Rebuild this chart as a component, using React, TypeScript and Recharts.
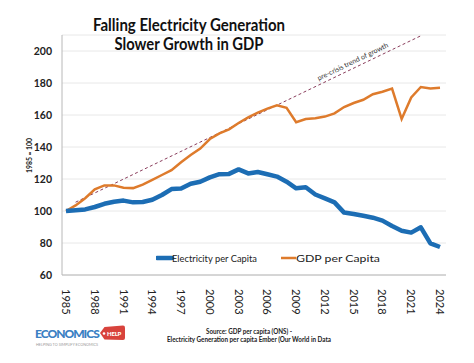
import React from 'react';
import { LineChart, Line, XAxis, YAxis, CartesianGrid, Legend, LabelList } from 'recharts';

const years = [
  1985, 1986, 1987, 1988, 1989, 1990, 1991, 1992, 1993, 1994,
  1995, 1996, 1997, 1998, 1999, 2000, 2001, 2002, 2003, 2004,
  2005, 2006, 2007, 2008, 2009, 2010, 2011, 2012, 2013, 2014,
  2015, 2016, 2017, 2018, 2019, 2020, 2021, 2022, 2023, 2024,
];
const electricity = [
  100, 100.5, 101, 102.5, 104.5, 105.8, 106.5, 105.4, 105.6, 107,
  110, 113.7, 114, 117, 118.3, 121, 123, 123.2, 126, 123.5,
  124.4, 123, 121.5, 118.3, 114.2, 114.8, 110.3, 107.9, 105.4, 99,
  98.1, 97, 95.8, 94, 90.6, 87.7, 86.5, 89.8, 79.8, 77.5,
];
const gdp = [
  100, 103.5, 108, 113.5, 116, 116, 114.5, 114.3, 116.5, 119.5,
  122.5, 125.5, 130.5, 135, 139, 145, 148.5, 151, 155, 158.5,
  161.5, 164, 166, 164.5, 155.5, 157.5, 158, 159, 161, 165,
  167.5, 169.5, 173, 174.5, 176.5, 157.5, 171, 177.5, 176.5, 177,
];
const trendYears = [1986, 2022];
const trendValues = [105.5, 209.5];
const xTicks = [1985, 1988, 1991, 1994, 1997, 2000, 2003, 2006, 2009, 2012, 2015, 2018, 2021, 2024];
const yTicks = [60, 80, 100, 120, 140, 160, 180, 200];

const data = years.map((year, i) => ({ year, elec: electricity[i], gdp: gdp[i] }));
const trendData = trendYears.map((year, i) => ({ year, trend: trendValues[i] }));

const BLUE = '#1c6db4';
const ORANGE = '#de7b2c';
const FONT = 'Lato, "Open Sans", sans-serif';

const XTick = (props: any) => {
  const { x, y, payload } = props;
  return (
    <g transform={`translate(${x},${y})`}>
      <text transform="rotate(90)" x={6} y={0} dy="0.36em" textAnchor="start" fontSize={11} fontFamily={FONT} fill="#222">
        {payload.value}
      </text>
    </g>
  );
};

const TrendLabel = (props: any) => {
  const { x, y, index } = props;
  if (index !== 1) return null;
  const cx = x - 67;
  const cy = y + 28;
  return (
    <text x={cx} y={cy} transform={`rotate(-25.7, ${cx}, ${cy})`} textAnchor="middle" fontSize={7} fontFamily={FONT} fill="#333">
      pre-crisis trend of growth
    </text>
  );
};

const renderLegend = () => (
  <svg width={240} height={14}>
    <line x1={1} y1={7} x2={16} y2={7} stroke={BLUE} strokeWidth={4.5} strokeLinecap="round" />
    <text x={16} y={10.5} fontSize={10} fontFamily={FONT} fill="#222" textLength={85} lengthAdjust="spacingAndGlyphs">Electricity per Capita</text>
    <line x1={125} y1={7} x2={140} y2={7} stroke={ORANGE} strokeWidth={2.5} />
    <text x={140} y={10.5} fontSize={10} fontFamily={FONT} fill="#222" textLength={84} lengthAdjust="spacingAndGlyphs">GDP per Capita</text>
  </svg>
);

export default function App() {
  return (
    <div style={{ position: 'absolute', left: 0, top: 0, width: 474, height: 363, background: '#fff', overflow: 'hidden' }}>
      <LineChart width={474} height={363} data={data} margin={{ top: 35, right: 28, bottom: 0, left: 22 }}>
        <CartesianGrid horizontal vertical={false} stroke="#e8e8e8" />
        <XAxis
          dataKey="year"
          type="number"
          domain={[1985, 2024]}
          ticks={xTicks}
          interval={0}
          padding={{ left: 4, right: 6 }}
          height={74}
          tick={<XTick />}
          tickLine={false}
          axisLine={{ stroke: '#b8b8b8' }}
          allowDuplicatedCategory={false}
        />
        <YAxis
          type="number"
          domain={[60, 210]}
          ticks={yTicks}
          width={40}
          tickLine={false}
          tickMargin={4}
          axisLine={{ stroke: '#b8b8b8' }}
          tick={{ fontSize: 10.5, fontWeight: 700, fontFamily: FONT, fill: '#222' }}
        />
        <Line data={trendData} dataKey="trend" stroke="#8a3d5c" strokeWidth={1} strokeDasharray="3 2.5" dot={false} isAnimationActive={false} legendType="none">
          <LabelList content={<TrendLabel />} />
        </Line>
        <Line dataKey="gdp" name="GDP per Capita" stroke={ORANGE} strokeWidth={2.5} dot={false} isAnimationActive={false} />
        <Line dataKey="elec" name="Electricity per Capita" stroke={BLUE} strokeWidth={4.5} dot={false} strokeLinejoin="round" isAnimationActive={false} />
        <Legend content={renderLegend} wrapperStyle={{ left: 156, top: 251, width: 240, height: 14 }} />
      </LineChart>

      <svg width={474} height={363} style={{ position: 'absolute', left: 0, top: 0, pointerEvents: 'none' }}>
        {/* title */}
        <text x={189} y={31} textAnchor="middle" fontSize={16.5} fontWeight={700} fontFamily={FONT} fill="#111" textLength={192} lengthAdjust="spacingAndGlyphs">
          Falling Electricity Generation
        </text>
        <text x={189} y={50} textAnchor="middle" fontSize={16.5} fontWeight={700} fontFamily={FONT} fill="#111" textLength={149} lengthAdjust="spacingAndGlyphs">
          Slower Growth in GDP
        </text>

        {/* y axis caption */}
        <text x={32} y={155.5} transform="rotate(-90, 32, 155.5)" textAnchor="middle" fontSize={7} fontWeight={700} fontFamily={FONT} fill="#222" textLength={35} lengthAdjust="spacingAndGlyphs">
          1985 = 100
        </text>

        {/* logo */}
        <text x={35} y={338} fontSize={12} fontWeight={900} fontFamily={FONT} fill="#3a80c3" letterSpacing={-1}>
          ECONOMICS
        </text>
        <path d="M100,333 L104.5,327 L123,325.5 Q125,325.5 125,327.5 L125,338 Q125,340 123,340 L104.5,339.5 Z" fill="#d8433c" />
        <circle cx={104} cy={333.5} r={1.3} fill="#fff" />
        <text x={107} y={335.5} fontSize={6} fontWeight={900} fontFamily={FONT} fill="#fff" letterSpacing={-0.2}>
          HELP
        </text>
        <text x={36} y={346} fontSize={3.5} fontFamily={FONT} fill="#9a9a9a" textLength={62} lengthAdjust="spacingAndGlyphs">
          HELPING TO SIMPLIFY ECONOMICS
        </text>

        {/* source */}
        <text x={249} y={334} textAnchor="middle" fontSize={7} fontWeight={700} fontFamily={FONT} fill="#222" textLength={86} lengthAdjust="spacingAndGlyphs">
          Source: GDP per capita (ONS) -
        </text>
        <text x={249} y={342} textAnchor="middle" fontSize={7} fontWeight={700} fontFamily={FONT} fill="#222" textLength={164} lengthAdjust="spacingAndGlyphs">
          Electricity Generation per capita Ember (Our World in Data
        </text>
      </svg>
    </div>
  );
}
